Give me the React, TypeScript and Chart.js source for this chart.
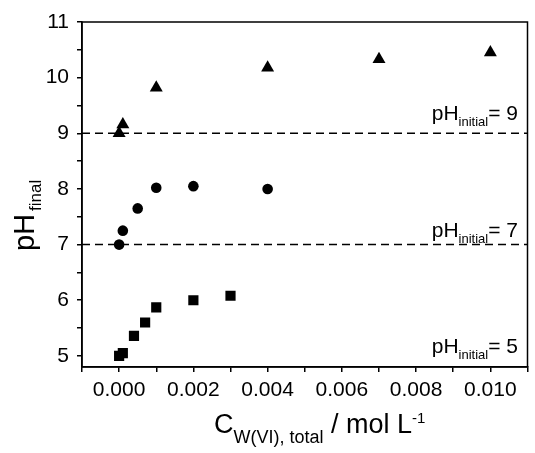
import React, { useEffect, useRef } from "react";
import { Chart, registerables } from "chart.js";

Chart.register(...registerables);

// pH_initial = 9 series (triangles)
const xPH9 = [0, 0.0001, 0.001, 0.004, 0.007, 0.01];
const yPH9 = [9.0, 9.16, 9.82, 10.18, 10.33, 10.45];
// pH_initial = 7 series (circles)
const xPH7 = [0, 0.0001, 0.0005, 0.001, 0.002, 0.004];
const yPH7 = [7.0, 7.25, 7.65, 8.02, 8.05, 8.0];
// pH_initial = 5 series (squares)
const xPH5 = [0, 0.0001, 0.0004, 0.0007, 0.001, 0.002, 0.003];
const yPH5 = [5.0, 5.05, 5.36, 5.6, 5.87, 6.0, 6.08];

const initialPH = [9, 7, 5];
const dashedLevels = [9, 7];

// tick positions (labels only on the major ones)
const xTicks = [-0.001, 0, 0.001, 0.002, 0.003, 0.004, 0.005, 0.006, 0.007, 0.008, 0.009, 0.01, 0.011];
const xTickLabels = ["", "0.000", "", "0.002", "", "0.004", "", "0.006", "", "0.008", "", "0.010", ""];
const yTicks = [5, 5.5, 6, 6.5, 7, 7.5, 8, 8.5, 9, 9.5, 10, 10.5, 11];
const yTickLabels = ["5", "", "6", "", "7", "", "8", "", "9", "", "10", "", "11"];

const FONT = "'Liberation Sans', Arial, sans-serif";

type Part = { text: string; size: number; dy: number; gap?: number };

function partsWidth(ctx: CanvasRenderingContext2D, parts: Part[]) {
  let w = 0;
  for (const p of parts) {
    ctx.font = `${p.size}px ${FONT}`;
    w += ctx.measureText(p.text).width + (p.gap || 0);
  }
  return w;
}

function drawParts(ctx: CanvasRenderingContext2D, parts: Part[], x: number, y: number) {
  let cx = x;
  ctx.textBaseline = "alphabetic";
  ctx.textAlign = "left";
  for (const p of parts) {
    ctx.font = `${p.size}px ${FONT}`;
    cx += p.gap || 0;
    ctx.fillText(p.text, cx, y + p.dy);
    cx += ctx.measureText(p.text).width;
  }
}

const decor = {
  id: "decor",
  afterDraw(chart: any) {
    const ctx: CanvasRenderingContext2D = chart.ctx;
    const { left, right, top, bottom } = chart.chartArea;
    const ys = chart.scales.y;
    ctx.save();
    ctx.fillStyle = "#000";
    ctx.strokeStyle = "#000";

    // frame
    ctx.lineWidth = 1.5;
    ctx.strokeRect(left, top, right - left, bottom - top);

    // dashed reference lines
    ctx.setLineDash([8, 5]);
    ctx.lineWidth = 1.5;
    for (const v of dashedLevels) {
      const py = ys.getPixelForValue(v);
      ctx.beginPath();
      ctx.moveTo(left, py);
      ctx.lineTo(right, py);
      ctx.stroke();
    }
    ctx.setLineDash([]);

    // pH_initial labels
    const lift: Record<number, number> = { 9: 13, 7: 8, 5: 3 };
    for (const v of initialPH) {
      const parts: Part[] = [
        { text: "pH", size: 21, dy: 0 },
        { text: "initial", size: 13, dy: 6 },
        { text: "= " + v, size: 21, dy: 0 },
      ];
      const w = partsWidth(ctx, parts);
      drawParts(ctx, parts, 518 - w, ys.getPixelForValue(v) - lift[v]);
    }

    // y axis title (rotated)
    ctx.save();
    ctx.translate(34, 251);
    ctx.rotate(-Math.PI / 2);
    drawParts(
      ctx,
      [
        { text: "pH", size: 29, dy: 0 },
        { text: "final", size: 17, dy: 7, gap: 3 },
      ],
      0,
      0
    );
    ctx.restore();

    // x axis title
    const xt: Part[] = [
      { text: "C", size: 27, dy: 0 },
      { text: "W(VI), total", size: 18, dy: 10 },
      { text: " / mol L", size: 27, dy: 0 },
      { text: "-1", size: 15, dy: -10 },
    ];
    drawParts(ctx, xt, 214, 433);

    ctx.restore();
  },
};

export default function App() {
  const ref = useRef<HTMLCanvasElement | null>(null);
  useEffect(() => {
    if (!ref.current) return;
    const mk = (xs: number[], ys: number[]) => xs.map((x, i) => ({ x, y: ys[i] }));
    const gridOpts = {
      display: true,
      drawOnChartArea: false,
      drawTicks: true,
      tickLength: 5,
      color: "#000",
      lineWidth: 1.5,
    };
    const chart = new Chart(ref.current, {
      type: "scatter",
      data: {
        datasets: [
          {
            label: "pH initial 9",
            data: mk(xPH9, yPH9),
            pointStyle: "triangle",
            pointRadius: 7.5,
            backgroundColor: "#000",
            borderColor: "#000",
            borderWidth: 0,
          },
          {
            label: "pH initial 7",
            data: mk(xPH7, yPH7),
            pointStyle: "circle",
            pointRadius: 5.3,
            backgroundColor: "#000",
            borderColor: "#000",
            borderWidth: 0,
          },
          {
            label: "pH initial 5",
            data: mk(xPH5, yPH5),
            pointStyle: "rect",
            pointRadius: 7.2,
            backgroundColor: "#000",
            borderColor: "#000",
            borderWidth: 0,
          },
        ],
      },
      options: {
        animation: false,
        responsive: false,
        events: [],
        layout: { padding: { top: 22, right: 2, left: 0, bottom: 0 } },
        plugins: { legend: { display: false }, tooltip: { enabled: false } },
        scales: {
          x: {
            type: "linear",
            min: -0.001,
            max: 0.011,
            afterFit: (s: any) => {
              s.height = 86;
            },
            afterBuildTicks: (s: any) => {
              s.ticks = xTicks.map((v) => ({ value: v }));
            },
            ticks: {
              autoSkip: false,
              maxRotation: 0,
              color: "#000",
              padding: 6,
              font: { family: FONT, size: 21 },
              callback: (_v: any, i: number) => xTickLabels[i] ?? "",
            },
            grid: gridOpts,
            border: { display: true, color: "#000", width: 1.5 },
          },
          y: {
            type: "linear",
            min: 4.8,
            max: 11,
            afterFit: (s: any) => {
              s.width = 82;
            },
            afterBuildTicks: (s: any) => {
              s.ticks = yTicks.map((v) => ({ value: v }));
            },
            ticks: {
              autoSkip: false,
              color: "#000",
              padding: 8,
              font: { family: FONT, size: 21 },
              callback: (_v: any, i: number) => yTickLabels[i] ?? "",
            },
            grid: gridOpts,
            border: { display: true, color: "#000", width: 1.5 },
          },
        },
      },
      plugins: [decor],
    });
    return () => chart.destroy();
  }, []);
  return (
    <div style={{ position: "fixed", left: 0, top: 0, width: 535, height: 453, background: "#fff" }}>
      <canvas ref={ref} width={535} height={453} style={{ display: "block" }} />
    </div>
  );
}
